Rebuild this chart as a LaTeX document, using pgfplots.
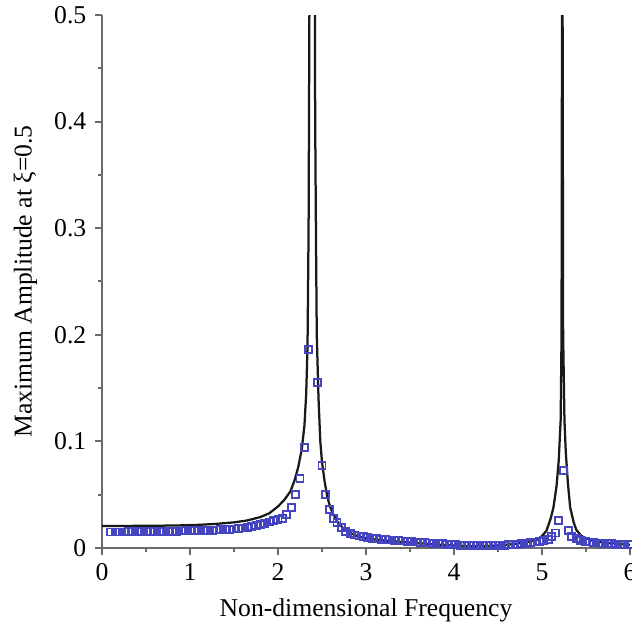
\documentclass[border=0pt]{standalone}
\usepackage{fontspec}
\setmainfont{Liberation Serif}
\usepackage{pgfplots}
\pgfplotsset{compat=1.18}
\definecolor{mk}{HTML}{4545C2}
\definecolor{axgray}{HTML}{6A6A6A}

\pgfplotstableread{
x y
0.00 0.0207
0.30 0.0207
0.60 0.0208
0.90 0.0212
1.10 0.0217
1.30 0.0226
1.50 0.0240
1.65 0.0258
1.80 0.0290
1.90 0.0325
2.00 0.0390
2.07 0.0450
2.14 0.0530
2.19 0.0640
2.23 0.0760
2.27 0.0930
2.30 0.1150
2.32 0.1450
2.335 0.1900
2.347 0.3000
2.356 0.5000
2.37 0.9000
2.387 3.0000
2.40 1.2000
2.415 0.6000
2.422 0.4000
2.432 0.2800
2.44 0.2000
2.46 0.1400
2.48 0.1000
2.50 0.0800
2.53 0.0620
2.56 0.0480
2.59 0.0390
2.63 0.0310
2.68 0.0240
2.74 0.0185
2.82 0.0140
2.90 0.0112
2.97 0.0097
3.10 0.0080
3.25 0.0066
3.50 0.0050
3.84 0.0030
4.00 0.0022
4.20 0.0015
4.40 0.0018
4.60 0.0030
4.75 0.0045
4.90 0.0066
4.97 0.0085
5.05 0.0160
5.10 0.0280
5.13 0.0380
5.165 0.0580
5.19 0.0820
5.212 0.1200
5.222 0.2000
5.227 0.5000
5.230 3.0000
5.234 0.5000
5.240 0.2000
5.255 0.1200
5.270 0.0900
5.295 0.0600
5.32 0.0380
5.36 0.0240
5.39 0.0170
5.45 0.0110
5.58 0.0066
5.75 0.0045
6.00 0.0030
}\exact

\pgfplotstableread{
x y
0.10 0.0150
0.15 0.0150
0.20 0.0150
0.25 0.0150
0.30 0.0151
0.35 0.0151
0.40 0.0151
0.45 0.0152
0.50 0.0152
0.55 0.0153
0.60 0.0153
0.65 0.0154
0.70 0.0155
0.75 0.0156
0.80 0.0157
0.85 0.0158
0.90 0.0159
0.95 0.0160
1.00 0.0161
1.05 0.0162
1.10 0.0163
1.15 0.0164
1.20 0.0165
1.25 0.0166
1.30 0.0168
1.35 0.0170
1.40 0.0172
1.45 0.0175
1.50 0.0178
1.55 0.0182
1.60 0.0187
1.65 0.0193
1.70 0.0200
1.75 0.0208
1.80 0.0218
1.85 0.0230
1.90 0.0243
1.95 0.0255
2.00 0.0265
2.05 0.0280
2.10 0.0315
2.15 0.0380
2.20 0.0500
2.25 0.0650
2.30 0.0940
2.35 0.1860
2.45 0.1550
2.50 0.0770
2.54 0.0500
2.58 0.0360
2.63 0.0280
2.67 0.0240
2.72 0.0190
2.77 0.0155
2.82 0.0135
2.87 0.0122
2.92 0.0112
2.97 0.0104
3.02 0.0097
3.07 0.0091
3.12 0.0087
3.17 0.0083
3.22 0.0079
3.27 0.0075
3.32 0.0071
3.37 0.0068
3.42 0.0065
3.47 0.0062
3.52 0.0059
3.57 0.0056
3.62 0.0053
3.67 0.0050
3.72 0.0047
3.77 0.0044
3.82 0.0041
3.87 0.0038
3.92 0.0035
3.97 0.0032
4.02 0.0029
4.07 0.0027
4.12 0.0025
4.17 0.0023
4.22 0.0022
4.27 0.0021
4.32 0.0021
4.37 0.0021
4.42 0.0022
4.47 0.0023
4.52 0.0025
4.57 0.0027
4.62 0.0029
4.67 0.0031
4.72 0.0034
4.77 0.0038
4.82 0.0043
4.87 0.0049
4.92 0.0056
4.97 0.0063
5.02 0.0070
5.07 0.0082
5.11 0.0105
5.15 0.0140
5.19 0.0260
5.24 0.0730
5.30 0.0160
5.34 0.0110
5.39 0.0085
5.44 0.0070
5.49 0.0062
5.54 0.0056
5.59 0.0051
5.64 0.0047
5.69 0.0044
5.74 0.0041
5.79 0.0038
5.84 0.0036
5.89 0.0034
5.94 0.0032
5.99 0.0030
}\approxpts

\begin{document}
\begin{tikzpicture}
\begin{axis}[
  scale only axis, width=211pt, height=213pt,
  xmin=0, xmax=6, ymin=0, ymax=0.5,
  axis x line*=bottom, axis y line*=left,
  axis line style={axgray, line width=0.9pt},
  xtick={0,1,2,3,4,5,6}, ytick={0,0.1,0.2,0.3,0.4,0.5},
  minor x tick num=1, minor y tick num=1,
  tick align=outside, major tick length=2.8pt, minor tick length=1.8pt,
  tick style={axgray, line width=0.8pt},
  yticklabel style={/pgf/number format/fixed, /pgf/number format/precision=1},
  /pgf/number format/assume math mode=true,
  tick label style={font=\fontsize{10.25}{12}\selectfont},
  label style={font=\fontsize{10.25}{12}\selectfont},
  xlabel={Non-dimensional Frequency},
  ylabel={Maximum Amplitude at ξ=0.5},
]
\addplot[black!90, line width=0.9pt, no marks] table[x=x, y=y] {\exact};
\addplot[only marks, mark=square, mark size=1.4pt, mark options={mk, line width=0.75pt}] table[x=x, y=y] {\approxpts};
\coordinate (SW) at (rel axis cs:0,0);
\coordinate (NE) at (rel axis cs:1,1);
\end{axis}
% page edges as in the reference (its right edge cuts the last tick label)
\pgfresetboundingbox
\path ([shift={(-40.8pt,-30.8pt)}]SW) rectangle ([shift={(0.8pt,6pt)}]NE);
\end{tikzpicture}
\end{document}
